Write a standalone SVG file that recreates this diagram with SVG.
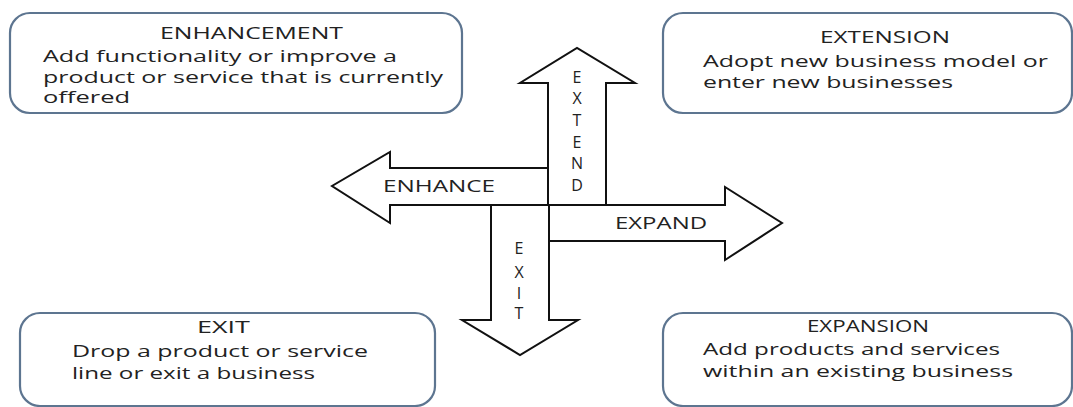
<svg xmlns="http://www.w3.org/2000/svg" width="1073" height="407" viewBox="0 0 1073 407">
<style>
.box{fill:#ffffff;stroke:#5d7590;stroke-width:2.2}
.arrow{fill:#ffffff;stroke:#111111;stroke-width:2;stroke-linejoin:miter}
text{font-family:"Open Sans","Liberation Sans",sans-serif;fill:#222222}
.t{font-size:17px}
.b{font-size:16px}
.a{font-size:16px}
.v{font-size:16px;text-anchor:middle}
</style>
<rect width="1073" height="407" fill="#ffffff"/>
<g id="connectors">
<polygon class="arrow" points="548,205 548,83 520,83 577,48 635,83 606,83 606,205"/>
<polygon class="arrow" points="548,205 390,205 390,223 332,186 390,152 390,168 548,168"/>
<polygon class="arrow" points="548,205 725,205 725,187 782,223 725,260 725,241 548,241"/>
<polygon class="arrow" points="549,205 549,320 578,320 520,355 462,320 491,320 491,205"/>
</g>
<g id="label-extend">
<text class="v" x="577" y="83">E</text>
<text class="v" x="577" y="104">X</text>
<text class="v" x="577" y="126">T</text>
<text class="v" x="577" y="148">E</text>
<text class="v" x="577" y="169">N</text>
<text class="v" x="577" y="191">D</text>
</g>
<g id="label-enhance"><text class="a" x="383" y="192" textLength="112" lengthAdjust="spacingAndGlyphs">ENHANCE</text></g>
<g id="label-expand"><text class="a" x="615" y="229" textLength="92" lengthAdjust="spacingAndGlyphs">EXPAND</text></g>
<g id="label-exit">
<text class="v" x="519" y="254">E</text>
<text class="v" x="519" y="278">X</text>
<text class="v" x="519" y="299">I</text>
<text class="v" x="519" y="319">T</text>
</g>
<g id="enhancement">
<rect class="box" x="10" y="13" width="452" height="100" rx="20" ry="20"/>
<text class="t" x="160" y="39" textLength="183" lengthAdjust="spacingAndGlyphs">ENHANCEMENT</text>
<text class="b" x="43" y="62" textLength="354" lengthAdjust="spacingAndGlyphs">Add functionality or improve a</text>
<text class="b" x="43" y="83" textLength="400" lengthAdjust="spacingAndGlyphs">product or service that is currently</text>
<text class="b" x="43" y="103" textLength="87" lengthAdjust="spacingAndGlyphs">offered</text>
</g>
<g id="extension">
<rect class="box" x="663" y="13" width="409" height="100" rx="20" ry="20"/>
<text class="t" x="820" y="43" textLength="130" lengthAdjust="spacingAndGlyphs">EXTENSION</text>
<text class="b" x="703" y="67" textLength="345" lengthAdjust="spacingAndGlyphs">Adopt new business model or</text>
<text class="b" x="703" y="88" textLength="250" lengthAdjust="spacingAndGlyphs">enter new businesses</text>
</g>
<g id="exit">
<rect class="box" x="20" y="313" width="415" height="93" rx="20" ry="20"/>
<text class="t" x="197" y="333" textLength="53" lengthAdjust="spacingAndGlyphs">EXIT</text>
<text class="b" x="72" y="357" textLength="296" lengthAdjust="spacingAndGlyphs">Drop a product or service</text>
<text class="b" x="72" y="379" textLength="243" lengthAdjust="spacingAndGlyphs">line or exit a business</text>
</g>
<g id="expansion">
<rect class="box" x="663" y="313" width="409" height="93" rx="20" ry="20"/>
<text class="t" x="807" y="332" textLength="122" lengthAdjust="spacingAndGlyphs">EXPANSION</text>
<text class="b" x="703" y="355" textLength="297" lengthAdjust="spacingAndGlyphs">Add products and services</text>
<text class="b" x="703" y="377" textLength="310" lengthAdjust="spacingAndGlyphs">within an existing business</text>
</g>
</svg>
